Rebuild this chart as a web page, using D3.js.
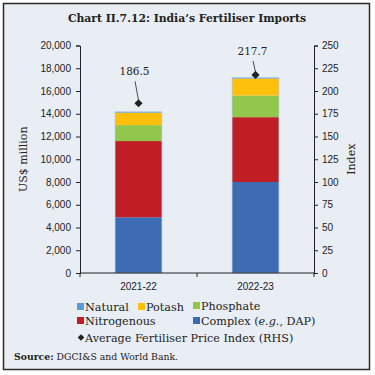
<!DOCTYPE html>
<html>
<head>
<meta charset="utf-8">
<script src="https://cdn.jsdelivr.net/npm/d3@7"></script>
<style>
  body { margin: 0; background: #fff; }
  svg { display: block; font-family: "DejaVu Serif", serif; overflow: visible; }
  .tick text { font-size: 10px; fill: #222; }
  .axis-label { font-size: 11px; fill: #222; }
  .legend { font-size: 11.2px; fill: #222; }
</style>
</head>
<body>
<svg width="375" height="375"></svg>
<script>
const years = ['2021-22', '2022-23'];
const complexValues = [4900, 8000];
const nitrogenousValues = [6700, 5700];
const phosphateValues = [1400, 1900];
const potashValues = [1100, 1500];
const naturalValues = [70, 70];
const priceIndex = [186.5, 217.7];
const yTicks = [0, 2000, 4000, 6000, 8000, 10000, 12000, 14000, 16000, 18000, 20000];
const rightTicks = [0, 25, 50, 75, 100, 125, 150, 175, 200, 225, 250];

const svg = d3.select('svg');
const width = +svg.attr('width');
const height = +svg.attr('height');

svg.append('rect')
  .attr('x', 3.5).attr('y', 3.5)
  .attr('width', 366).attr('height', 366)
  .attr('fill', '#e9eef5')
  .attr('stroke', '#2b2b2b')
  .attr('stroke-width', 1.5);

svg.append('text')
  .attr('x', 187).attr('y', 22)
  .attr('text-anchor', 'middle')
  .attr('font-weight', 'bold')
  .attr('font-size', '10.8px')
  .attr('fill', '#222')
  .text('Chart II.7.12: India\u2019s Fertiliser Imports');

const margin = { top: 45.5, left: 80, right: 61, bottom: 102 };
const innerWidth = width - margin.left - margin.right;
const innerHeight = height - margin.top - margin.bottom;

const g = svg.append('g')
  .attr('transform', `translate(${margin.left},${margin.top})`);

const xScale = d3.scaleBand()
  .domain(years)
  .range([0, innerWidth])
  .paddingInner(0.6)
  .paddingOuter(0.3);

const yScale = d3.scaleLinear()
  .domain([0, 20000])
  .range([innerHeight, 0]);

const y2Scale = d3.scaleLinear()
  .domain([0, 250])
  .range([innerHeight, 0]);

const keys = ['Complex', 'Nitrogenous', 'Phosphate', 'Potash', 'Natural'];
const colors = {
  Complex: '#3d6cb5',
  Nitrogenous: '#c01e24',
  Phosphate: '#91c84b',
  Potash: '#ffc00c',
  Natural: '#5b9bd5'
};
const rows = years.map((y, i) => ({
  year: y,
  Complex: complexValues[i],
  Nitrogenous: nitrogenousValues[i],
  Phosphate: phosphateValues[i],
  Potash: potashValues[i],
  Natural: naturalValues[i]
}));
const stacked = d3.stack().keys(keys)(rows);

g.selectAll('g.layer').data(stacked)
  .enter().append('g')
    .attr('class', 'layer')
    .attr('fill', d => colors[d.key])
  .selectAll('rect').data(d => d)
  .enter().append('rect')
    .attr('x', d => xScale(d.data.year))
    .attr('width', xScale.bandwidth())
    .attr('y', d => yScale(d[1]))
    .attr('height', d => yScale(d[0]) - yScale(d[1]));

// bar outline
g.selectAll('rect.outline').data(rows)
  .enter().append('rect')
    .attr('class', 'outline')
    .attr('x', d => xScale(d.year))
    .attr('width', xScale.bandwidth())
    .attr('y', d => yScale(d3.sum(keys, k => d[k])))
    .attr('height', d => innerHeight - yScale(d3.sum(keys, k => d[k])))
    .attr('fill', 'none')
    .attr('stroke', '#a9c1e2')
    .attr('stroke-width', 0.6);

const yAxis = d3.axisLeft(yScale)
  .tickValues(yTicks)
  .tickSize(4)
  .tickPadding(5)
  .tickFormat(d3.format(','));
g.append('g').call(yAxis);

const y2Axis = d3.axisRight(y2Scale)
  .tickValues(rightTicks)
  .tickSize(4)
  .tickPadding(4);
g.append('g')
  .attr('transform', `translate(${innerWidth},0)`)
  .call(y2Axis);

const xAxisG = g.append('g')
  .attr('transform', `translate(0,${innerHeight})`)
  .call(d3.axisBottom(xScale).tickSize(0).tickPadding(10));
xAxisG.select('.domain').remove();
xAxisG.selectAll('.tick text').attr('font-size', '10.5px');

xAxisG.append('line')
  .attr('x1', 0).attr('x2', innerWidth)
  .attr('stroke', '#222');
xAxisG.selectAll('line.sep').data([0, 1, 2])
  .enter().append('line')
    .attr('class', 'sep')
    .attr('x1', i => i * xScale.step())
    .attr('x2', i => i * xScale.step())
    .attr('y1', 0).attr('y2', 4)
    .attr('stroke', '#222');

g.selectAll('.tick line').attr('stroke', '#222');
g.selectAll('.domain').attr('stroke', '#222');

g.append('text')
  .attr('class', 'axis-label')
  .attr('transform', 'rotate(-90)')
  .attr('x', -innerHeight / 2)
  .attr('y', -53)
  .attr('text-anchor', 'middle')
  .text('US$ million');

g.append('text')
  .attr('class', 'axis-label')
  .attr('transform', 'rotate(-90)')
  .attr('x', -innerHeight / 2)
  .attr('y', innerWidth + 41)
  .attr('text-anchor', 'middle')
  .text('Index');

// price index markers
const diamond = d3.symbol().type(d3.symbolDiamond2).size(42);
const labelOffsets = [{ dx: -4, dy: -28 }, { dx: -3, dy: -20 }];

priceIndex.forEach((v, i) => {
  const cx = xScale(years[i]) + xScale.bandwidth() / 2;
  const cy = y2Scale(v);
  const o = labelOffsets[i];
  g.append('line')
    .attr('x1', cx + o.dx + 0.5).attr('y1', cy + o.dy + 6)
    .attr('x2', cx).attr('y2', cy - 3)
    .attr('stroke', '#222')
    .attr('stroke-width', 0.8);
  g.append('path')
    .attr('d', diamond())
    .attr('transform', `translate(${cx},${cy})`)
    .attr('fill', '#222');
  g.append('text')
    .attr('x', cx + o.dx)
    .attr('y', cy + o.dy)
    .attr('text-anchor', 'middle')
    .attr('font-size', '10.5px')
    .attr('fill', '#222')
    .text(v.toFixed(1));
});

// legend
const legendItems = [
  { label: 'Natural', key: 'Natural', x: 77, y: 307 },
  { label: 'Potash', key: 'Potash', x: 138, y: 307 },
  { label: 'Phosphate', key: 'Phosphate', x: 193, y: 306 },
  { label: 'Nitrogenous', key: 'Nitrogenous', x: 77, y: 321 },
  { label: 'Complex', key: 'Complex', x: 193, y: 321 }
];
const legend = svg.append('g');
legendItems.forEach(d => {
  legend.append('rect')
    .attr('x', d.x).attr('y', d.y - 4)
    .attr('width', 7).attr('height', 7)
    .attr('fill', colors[d.key]);
  const t = legend.append('text')
    .attr('class', 'legend')
    .attr('x', d.x + 8)
    .attr('y', d.y + 4);
  if (d.key === 'Complex') {
    t.append('tspan').text('Complex (');
    t.append('tspan').attr('font-style', 'italic').text('e.g.');
    t.append('tspan').text(', DAP)');
  } else {
    t.text(d.label);
  }
});
legend.append('path')
  .attr('d', d3.symbol().type(d3.symbolDiamond2).size(28)())
  .attr('transform', 'translate(81,337.5)')
  .attr('fill', '#222');
legend.append('text')
  .attr('class', 'legend')
  .attr('x', 85).attr('y', 341.5)
  .text('Average Fertiliser Price Index (RHS)');

const src = svg.append('text')
  .attr('x', 14).attr('y', 360)
  .attr('font-size', '9.3px')
  .attr('fill', '#222');
src.append('tspan').attr('font-weight', 'bold').text('Source:');
src.append('tspan').text(' DGCI&S and World Bank.');
</script>
</body>
</html>
